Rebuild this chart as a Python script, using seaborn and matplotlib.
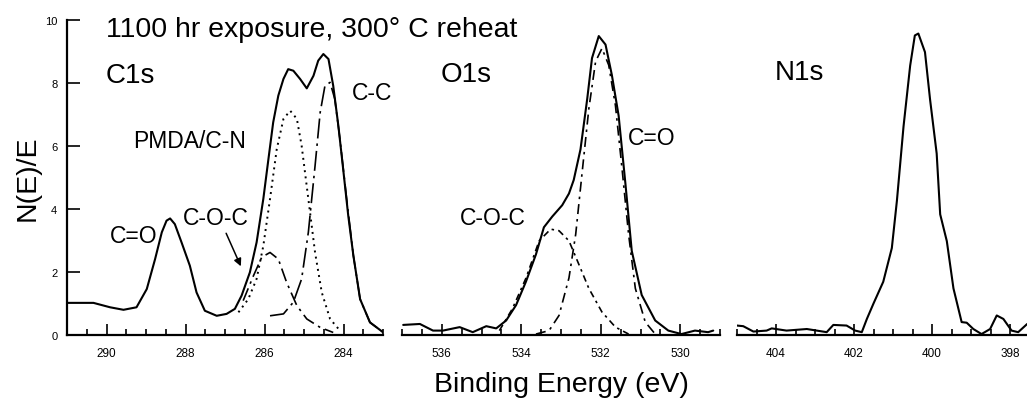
import matplotlib
matplotlib.use("Agg")
import matplotlib.pyplot as plt
import numpy as np
import seaborn as sns

# ---- C1s panel (binding energy in eV, N(E)/E) ----
c1s_energy = [291.0, 290.33, 289.91, 289.57, 289.24, 288.98, 288.77, 288.6, 288.48, 288.39,
              288.27, 288.1, 287.89, 287.72, 287.51, 287.21, 286.96, 286.75, 286.58, 286.37,
              286.2, 286.03, 285.9, 285.78, 285.65, 285.52, 285.4, 285.27, 285.1, 284.93,
              284.76, 284.64, 284.51, 284.38, 284.26, 284.13, 284.0, 283.88, 283.75, 283.58,
              283.33, 282.99]
c1s_total = [1.02, 1.02, 0.88, 0.80, 0.88, 1.46, 2.41, 3.26, 3.63, 3.70,
             3.52, 2.94, 2.20, 1.35, 0.77, 0.61, 0.67, 0.83, 1.25, 1.99,
             2.94, 4.32, 5.59, 6.75, 7.60, 8.13, 8.44, 8.39, 8.13, 7.83,
             8.23, 8.71, 8.92, 8.76, 7.91, 6.64, 5.17, 3.79, 2.52, 1.14,
             0.40, 0.08]

pmda_energy = [286.66, 286.41, 286.2, 286.03, 285.86, 285.69, 285.52, 285.35, 285.18, 285.06,
               284.89, 284.72, 284.55, 284.34, 284.09]
pmda_fit = [0.72, 1.14, 1.78, 2.83, 4.32, 5.90, 6.86, 7.12, 6.86, 6.01,
            4.32, 2.62, 1.35, 0.51, 0.14]

c1s_coc_energy = [286.54, 286.28, 286.07, 285.86, 285.65, 285.44, 285.18, 284.93, 284.59, 284.26]
c1s_coc_fit = [1.09, 1.88, 2.47, 2.62, 2.41, 1.67, 0.93, 0.51, 0.24, 0.08]

cc_energy = [285.86, 285.52, 285.27, 285.06, 284.89, 284.72, 284.59, 284.47, 284.34, 284.22,
             284.09, 283.92, 283.75, 283.58, 283.33, 282.99]
cc_fit = [0.61, 0.67, 1.04, 1.78, 3.26, 5.37, 7.07, 7.91, 8.02, 7.49,
          6.22, 4.32, 2.52, 1.14, 0.40, 0.08]

# ---- O1s panel ----
o1s_energy = [536.97, 536.55, 536.22, 535.97, 535.55, 535.22, 534.88, 534.63, 534.38, 534.13,
              533.88, 533.63, 533.43, 533.22, 532.97, 532.8, 532.68, 532.51, 532.34, 532.22,
              532.05, 531.88, 531.72, 531.55, 531.38, 531.22, 530.97, 530.63, 530.3, 529.97,
              529.63, 529.3, 529.17]
o1s_total = [0.32, 0.35, 0.14, 0.14, 0.25, 0.09, 0.28, 0.21, 0.46, 0.95,
             1.70, 2.56, 3.42, 3.76, 4.12, 4.49, 4.92, 5.89, 7.50, 8.79,
             9.49, 9.22, 8.25, 6.96, 4.81, 2.67, 1.27, 0.46, 0.14, 0.03,
             0.14, 0.09, 0.14]

o1s_co_energy = [533.63, 533.3, 533.05, 532.8, 532.63, 532.47, 532.3, 532.13, 531.97, 531.8,
                 531.63, 531.47, 531.3, 531.13, 530.88, 530.63]
o1s_co_fit = [0.03, 0.14, 0.62, 1.81, 3.20, 5.14, 7.18, 8.68, 9.10, 8.57,
              7.28, 5.35, 3.20, 1.48, 0.41, 0.03]

o1s_coc_energy = [534.55, 534.22, 533.88, 533.55, 533.26, 533.05, 532.8, 532.55, 532.3, 531.97,
                  531.63, 531.3]
o1s_coc_fit = [0.14, 0.84, 1.81, 2.99, 3.36, 3.31, 2.99, 2.24, 1.48, 0.73, 0.25, 0.03]

# ---- N1s panel ----
n1s_energy = [405.0, 404.84, 404.58, 404.24, 404.11, 403.73, 403.21, 402.7, 402.53, 402.19,
              401.97, 401.8, 401.67, 401.5, 401.25, 401.03, 400.9, 400.73, 400.56, 400.44,
              400.35, 400.18, 400.05, 399.88, 399.79, 399.62, 399.45, 399.24, 399.11, 398.94,
              398.73, 398.51, 398.34, 398.17, 397.96, 397.79, 397.56]
n1s_total = [0.30, 0.28, 0.11, 0.14, 0.21, 0.14, 0.19, 0.09, 0.32, 0.30,
             0.14, 0.09, 0.51, 1.00, 1.69, 2.76, 4.26, 6.62, 8.55, 9.51,
             9.57, 8.98, 7.48, 5.76, 3.83, 2.98, 1.48, 0.41, 0.39, 0.19,
             0.03, 0.19, 0.62, 0.51, 0.14, 0.09, 0.35]

y_ticks = [0, 2, 4, 6, 8, 10]

sns.set_style("ticks")
plt.rcParams['font.family'] = ['Liberation Sans', 'DejaVu Sans']
plt.rcParams.update({"text.color": "black", "axes.labelcolor": "black",
                     "axes.edgecolor": "black", "xtick.color": "black",
                     "ytick.color": "black", "lines.solid_joinstyle": "round"})

W, H = 1027, 402
fig = plt.figure(figsize=(W / 100, H / 100), dpi=100)


def px_axes(x0, x1, y_top=21, y_bot=336):
    return fig.add_axes([x0 / W, 1 - y_bot / H, (x1 - x0) / W, (y_bot - y_top) / H])


ax1 = px_axes(67, 383)
ax2 = px_axes(402, 720)
ax3 = px_axes(737, 1049)

line_kw = dict(color="black", sort=False, estimator=None, legend=False)

sns.lineplot(x=c1s_energy, y=c1s_total, ax=ax1, lw=1.5, **line_kw)
sns.lineplot(x=pmda_energy, y=pmda_fit, ax=ax1, lw=1.4, linestyle=(0, (1, 2.2)), **line_kw)
sns.lineplot(x=c1s_coc_energy, y=c1s_coc_fit, ax=ax1, lw=1.2, linestyle=(0, (8, 3, 1.5, 3)), **line_kw)
sns.lineplot(x=cc_energy, y=cc_fit, ax=ax1, lw=1.2, linestyle=(0, (12, 3, 1.5, 3)), **line_kw)

sns.lineplot(x=o1s_energy, y=o1s_total, ax=ax2, lw=1.5, **line_kw)
sns.lineplot(x=o1s_co_energy, y=o1s_co_fit, ax=ax2, lw=1.2, linestyle=(0, (6, 3, 1.5, 3)), **line_kw)
sns.lineplot(x=o1s_coc_energy, y=o1s_coc_fit, ax=ax2, lw=1.2, linestyle=(0, (4, 2.5, 1.5, 2.5)), **line_kw)

sns.lineplot(x=n1s_energy, y=n1s_total, ax=ax3, lw=1.5, **line_kw)

for ax, lim, majors in [(ax1, (291, 283), [290, 288, 286, 284]),
                        (ax2, (537, 529), [536, 534, 532, 530]),
                        (ax3, (405, 397), [404, 402, 400, 398])]:
    ax.set_xlim(*lim)
    ax.set_ylim(0, 10)
    ax.set_xticks(majors)
    ax.set_xticks(np.arange(lim[1], lim[0] + 0.01, 0.5), minor=True)
    ax.tick_params(axis="x", which="major", direction="in", length=8, width=1.2,
                   labelsize=8.5, pad=9)
    ax.tick_params(axis="x", which="minor", direction="in", length=4.3, width=1.2)
    for s in ["top", "right"]:
        ax.spines[s].set_visible(False)
    ax.spines["bottom"].set_linewidth(1.6)
    ax.patch.set_visible(False)
    ax.set_xlabel("")
    ax.set_ylabel("")

ax1.set_yticks(y_ticks)
ax1.tick_params(axis="y", direction="in", length=9, width=1.2, labelsize=8, pad=7)
ax1.spines["left"].set_linewidth(1.6)
for ax in (ax2, ax3):
    ax.spines["left"].set_visible(False)
    ax.set_yticks([])

ax1.set_ylabel("N(E)/E", fontsize=20.5)
ax1.yaxis.set_label_coords(-0.085, 0.5)
ax2.set_xlabel("Binding Energy (eV)", fontsize=20.5)
ax2.xaxis.set_label_coords(0.5, -0.115)

# labels
ax1.text(290.01, 9.49, "1100 hr exposure, 300\u00b0 C reheat", fontsize=20.5, va="baseline")
ax1.text(290.01, 8.03, "C1s", fontsize=20, va="baseline")
ax1.text(289.33, 5.97, "PMDA/C-N", fontsize=16.5, va="baseline")
ax1.text(289.91, 2.95, "C=O", fontsize=16.5, va="baseline")
ax1.text(288.06, 3.52, "C-O-C", fontsize=16.5, va="baseline")
ax1.text(283.78, 7.49, "C-C", fontsize=16.5, va="baseline")
ax1.annotate("", xy=(286.57, 2.1), xytext=(287.0, 3.31),
             arrowprops=dict(arrowstyle="-|>", color="black", lw=1.1, mutation_scale=11))

ax2.text(536.02, 8.06, "O1s", fontsize=20, va="baseline")
ax2.text(531.31, 6.06, "C=O", fontsize=16.5, va="baseline")
ax2.text(535.54, 3.52, "C-O-C", fontsize=16.5, va="baseline")

ax3.text(404.03, 8.13, "N1s", fontsize=20, va="baseline")

fig.savefig("out.png", dpi=100)
